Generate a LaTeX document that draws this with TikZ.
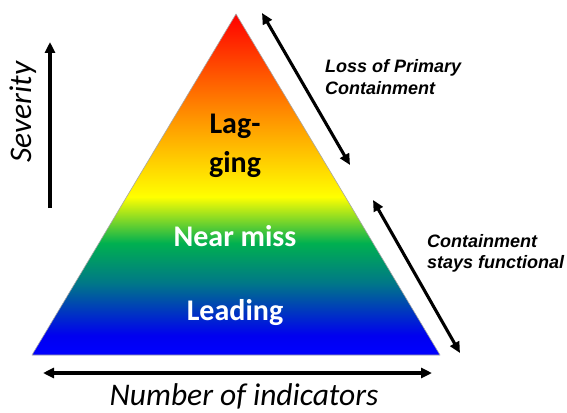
\documentclass[tikz,border=0pt]{standalone}
\usepackage{fontspec}
\setmainfont{Carlito}
\newfontfamily\arialfont{Liberation Sans}
\usetikzlibrary{arrows.meta}
\pgfdeclareverticalshading{pyramid}{100bp}{%
  color(0bp)=(blue);
  color(25bp)=(blue);
  color(27.9bp)=(blue!94!black);
  color(35.6bp)=(rgb,255:red,0;green,120;blue,135);
  color(41.4bp)=(rgb,255:red,0;green,176;blue,80);
  color(48.2bp)=(rgb,255:red,255;green,255;blue,0);
  color(59.5bp)=(rgb,255:red,255;green,150;blue,0);
  color(75bp)=(red);
  color(100bp)=(red)}
\tikzset{
  tip/.tip={Triangle[length=11pt,width=10pt]},
  axisarrow/.style={line width=3.1pt,tip-tip},
  uparrow/.style={line width=3.1pt,-tip},
  inlabel/.style={font=\fontsize{30}{39}\selectfont\bfseries,anchor=base,inner sep=0pt},
  axlabel/.style={font=\fontsize{31.5}{34}\selectfont\itshape,inner sep=0pt},
  sidelabel/.style={font=\arialfont\fontsize{18}{21.5}\selectfont\bfseries\itshape,anchor=base west,inner sep=0pt}
}
\begin{document}
\begin{tikzpicture}[x=1pt,y=-1pt]
\useasboundingbox (0,0) rectangle (567,412);
\coordinate (apex) at (236,14);
\coordinate (bl) at (32,355);
\coordinate (br) at (440,355);
\shade[shading=pyramid] (apex) -- (br) -- (bl) -- cycle;
\draw[gray!70,line width=0.6pt,line join=round] (apex) -- (br) -- (bl) -- cycle;
% inner labels
\node[inlabel,text=black] (lag) at (235,133) {Lag-};
\node[inlabel,text=black] (ging) at (235,172) {ging};
\node[inlabel,text=white] (near) at (235,246) {Near miss};
\node[inlabel,text=white] (lead) at (235,320) {Leading};
% severity
\coordinate (s0) at (50,208);
\coordinate (s1) at (50,42);
\draw[uparrow] (s0) -- (s1);
\node[axlabel,rotate=90] (sev) at (23,112) {Severity};
% bottom axis
\coordinate (b0) at (43,373);
\coordinate (b1) at (432,373);
\draw[axisarrow] (b0) -- (b1);
\node[axlabel,anchor=base] (num) at (244,405) {Number of indicators};
% right arrows
\coordinate (r0) at (262,13);
\coordinate (r1) at (350,165);
\coordinate (r2) at (373,200);
\coordinate (r3) at (460,353);
\draw[axisarrow] (r0) -- (r1);
\draw[axisarrow] (r2) -- (r3);
\node[sidelabel] (loss1) at (325,73) {Loss of Primary};
\node[sidelabel] (loss2) at (325,94) {Containment};
\node[sidelabel] (cont1) at (427,247) {Containment};
\node[sidelabel] (cont2) at (427,268) {stays functional};
\end{tikzpicture}
\end{document}
